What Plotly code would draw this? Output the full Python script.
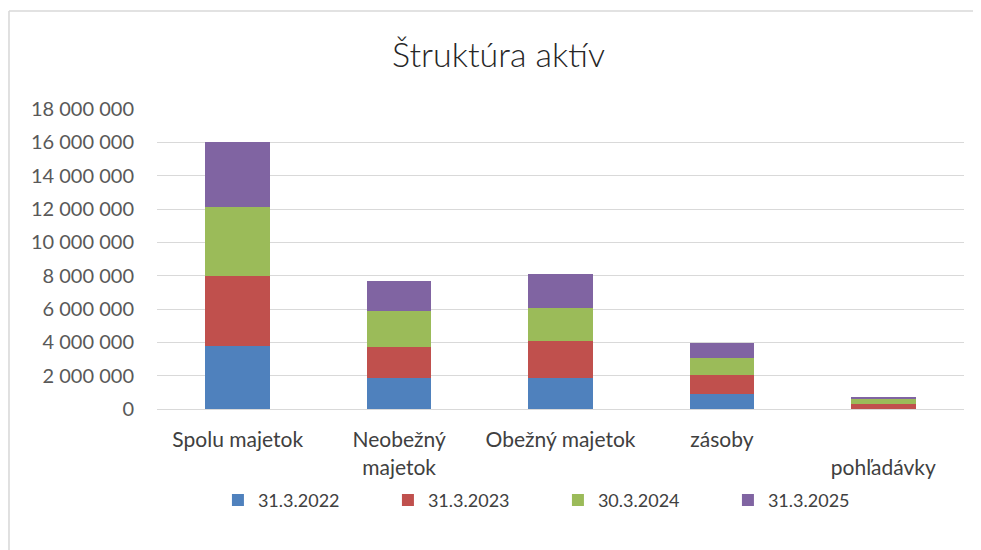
import plotly.graph_objects as go

categories = ["Spolu majetok", "Neobežný<br>majetok", "Obežný majetok", "zásoby", "<br>pohľadávky"]
series_names = ["31.3.2022", "31.3.2023", "30.3.2024", "31.3.2025"]
v2022 = [3770000, 1840000, 1860000, 900000, 30000]
v2023 = [4230000, 1910000, 2220000, 1160000, 290000]
v2024 = [4140000, 2140000, 2000000, 1000000, 280000]
v2025 = [3870000, 1810000, 2020000, 900000, 120000]
colors = ["#4F81BD", "#C0504D", "#9BBB59", "#8064A2"]
y_ticks = [0, 2000000, 4000000, 6000000, 8000000, 10000000, 12000000, 14000000, 16000000, 18000000]

fig = go.Figure()
for name, vals, col in zip(series_names, [v2022, v2023, v2024, v2025], colors):
    fig.add_trace(go.Bar(x=categories, y=vals, name=name, marker=dict(color=col, line=dict(width=0)),
                         width=0.4))

font_family = "Lato, 'Open Sans', sans-serif"
fig.update_layout(
    barmode="stack",
    width=981, height=550,
    margin=dict(l=149, r=25, t=101, b=149, autoexpand=False),
    paper_bgcolor="white", plot_bgcolor="white",
    separators=", ",
    font=dict(family=font_family, color="#595959", size=20),
    title=dict(text="Štruktúra aktív", x=0.5, xref="container", xanchor="center",
               y=0.915, yref="container", yanchor="middle",
               font=dict(family=font_family, size=34, color="#262626", weight=300)),
    legend=dict(orientation="h", x=0.214, xref="container", xanchor="left",
                y=0.105, yref="container", yanchor="middle",
                font=dict(size=18, color="#404040"), itemwidth=30, traceorder="normal",
                entrywidth=125),
    showlegend=True,
)
fig.update_yaxes(range=[0, 18000000], tickvals=y_ticks, tickformat=",.0f",
                 showgrid=True, gridcolor="#D9D9D9", gridwidth=1.3,
                 zeroline=False, showline=False, ticks="", ticklabelstandoff=22,
                 automargin=False, tickfont=dict(size=20, color="#595959"))
fig.update_xaxes(showgrid=False, showline=True, linecolor="#D9D9D9", linewidth=1.3,
                 ticks="", ticklabelstandoff=12, tickangle=0, automargin=False,
                 tickfont=dict(size=21, color="#404040"))

# outer chart border
fig.add_shape(type="line", xref="paper", yref="paper", x0=-0.1834, x1=1.05, y0=1.3267, y1=1.3267,
              line=dict(color="#D9D9D9", width=1.6))
fig.add_shape(type="line", xref="paper", yref="paper", x0=-0.1834, x1=-0.1834, y0=1.3267, y1=-0.5,
              line=dict(color="#D9D9D9", width=1.6))

fig.write_html("out.html")
